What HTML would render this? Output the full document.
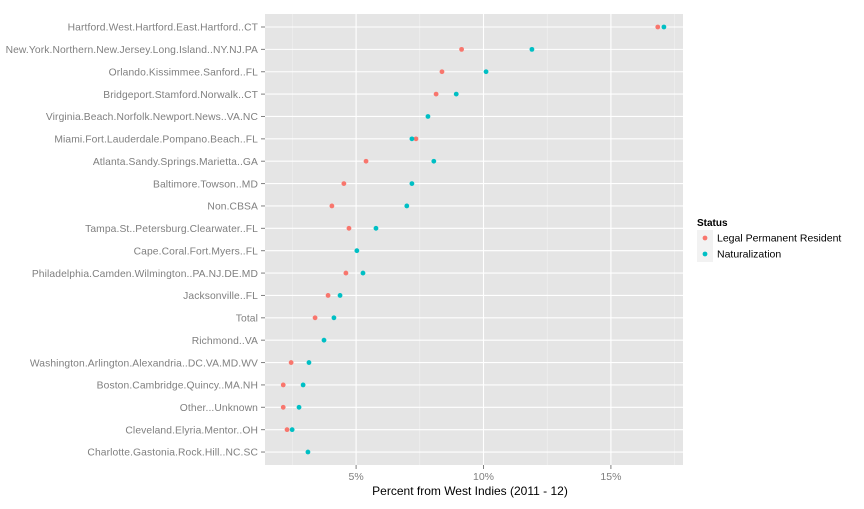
<!DOCTYPE html>
<html><head><meta charset="utf-8"><style>
body{margin:0;background:#fff;font-family:"Liberation Sans",Arial,sans-serif}
svg text{font-family:"Liberation Sans",Arial,sans-serif}
</style></head><body>
<svg id="chart" width="864" height="504" xmlns="http://www.w3.org/2000/svg"></svg>
<script>
const categories=["Hartford.West.Hartford.East.Hartford..CT","New.York.Northern.New.Jersey.Long.Island..NY.NJ.PA","Orlando.Kissimmee.Sanford..FL","Bridgeport.Stamford.Norwalk..CT","Virginia.Beach.Norfolk.Newport.News..VA.NC","Miami.Fort.Lauderdale.Pompano.Beach..FL","Atlanta.Sandy.Springs.Marietta..GA","Baltimore.Towson..MD","Non.CBSA","Tampa.St..Petersburg.Clearwater..FL","Cape.Coral.Fort.Myers..FL","Philadelphia.Camden.Wilmington..PA.NJ.DE.MD","Jacksonville..FL","Total","Richmond..VA","Washington.Arlington.Alexandria..DC.VA.MD.WV","Boston.Cambridge.Quincy..MA.NH","Other...Unknown","Cleveland.Elyria.Mentor..OH","Charlotte.Gastonia.Rock.Hill..NC.SC"];
const lprValues=[16.84,9.14,8.37,8.14,null,7.35,5.39,4.52,4.05,4.72,null,4.6,3.9,3.39,null,2.45,2.14,2.14,2.29,null];
const natValues=[17.08,11.9,10.1,8.93,7.82,7.19,8.05,7.19,6.99,5.78,5.03,5.27,4.37,4.13,3.74,3.15,2.92,2.76,2.49,3.11];
const xTicks=[5,10,15];
const xTickLabels=["5%","10%","15%"];
const minorTicks=[2.5,7.5,12.5,17.5];

const NS="http://www.w3.org/2000/svg";
const svg=document.getElementById('chart');
const P={l:265,r:683,t:14,b:465};
const x=v=>228.7+v*25.48;
const y=i=>27+i*22.37;
function el(t,a,txt){const e=document.createElementNS(NS,t);for(const k in a)e.setAttribute(k,a[k]);if(txt!=null)e.textContent=txt;svg.appendChild(e);return e;}
let e=el('rect',{x:P.l,y:P.t,width:P.r-P.l,height:P.b-P.t,fill:'#e5e5e5'});

minorTicks.forEach(v=>{const g=el('line',{x1:x(v),x2:x(v),y1:P.t,y2:P.b,stroke:'#f2f2f2','stroke-width':0.6});});
xTicks.forEach((v,i)=>{
 const g=el('line',{x1:x(v),x2:x(v),y1:P.t,y2:P.b,stroke:'#fff','stroke-width':1.1});
 const tk=el('line',{x1:x(v),x2:x(v),y1:P.b,y2:P.b+4,stroke:'#7f7f7f'});
 const t=el('text',{x:x(v),y:P.b+15,'text-anchor':'middle','font-size':10.5,fill:'#7f7f7f'},xTickLabels[i]);
});
categories.forEach((c,i)=>{
 const g=el('line',{x1:P.l,x2:P.r,y1:y(i),y2:y(i),stroke:'#fff','stroke-width':1.1});
 const tk=el('line',{x1:P.l-4,x2:P.l,y1:y(i),y2:y(i),stroke:'#7f7f7f'});
 const t=el('text',{x:P.l-7,y:y(i)+3.7,'text-anchor':'end','font-size':10.3,'letter-spacing':0.1,fill:'#7f7f7f'},c);
});
categories.forEach((c,i)=>{
 if(lprValues[i]!=null){const d=el('circle',{cx:x(lprValues[i]),cy:y(i),r:2.4,fill:'#f8766d'});}
 if(natValues[i]!=null){const d=el('circle',{cx:x(natValues[i]),cy:y(i),r:2.4,fill:'#00bfc4'});}
});
e=el('text',{x:(P.l+P.r)/2-4,y:P.b+30,'text-anchor':'middle','font-size':12,fill:'#000'},'Percent from West Indies (2011 - 12)');

e=el('text',{x:697,y:226,'font-size':10,'font-weight':'bold',fill:'#000'},'Status');

[['Legal Permanent Resident','#f8766d',238],['Naturalization','#00bfc4',254]].forEach(([n,col,yy])=>{
 const b=el('rect',{x:697,y:yy-8,width:16,height:16,fill:'#f2f2f2'});
 const d=el('circle',{cx:705,cy:yy,r:2.4,fill:col});
 const t=el('text',{x:717,y:yy+3.5,'font-size':10.5,fill:'#000'},n);
});
</script>
</body></html>
